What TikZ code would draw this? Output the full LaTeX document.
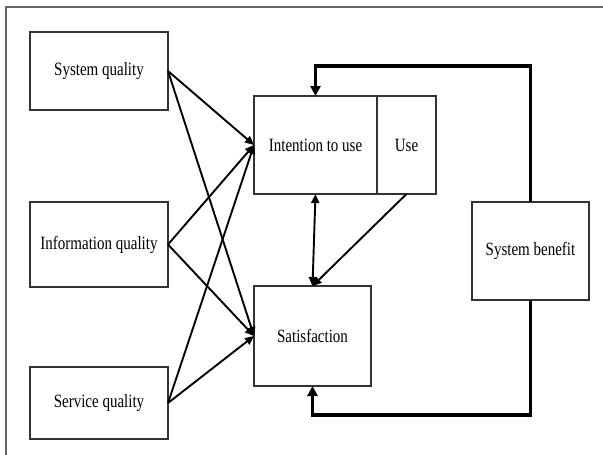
\documentclass[tikz,border=0pt]{standalone}
\usepackage{fontspec}
\setmainfont{Liberation Serif}
\usepackage{graphicx}
\usetikzlibrary{arrows.meta,positioning}
\newcommand{\tallt}[1]{\scalebox{1}[1.25]{#1}}
\tikzset{
	blockbox/.style={
		draw=black!80, line width=1.3pt, inner sep=0pt, outer sep=0pt,
		font=\fontsize{15}{18}\selectfont},
	link/.style={
		line width=1.9pt, >={Triangle[length=9pt,width=8pt]}, ->},
	feedback/.style={
		line width=3.5pt, >={Triangle[length=10pt,width=10pt]}, ->}
}

\begin{document}
\begin{tikzpicture}[x=1pt,y=1pt,yscale=-1,xscale=1]
\useasboundingbox (0,0) rectangle (603,455);

% frame
\draw [black!60, line width=1.6pt] (6,455) -- (6,7) -- (603,7);

% quality boxes
\node [blockbox, minimum width=138pt, minimum height=78pt] (sysq) at (99,71) {\tallt{System quality}};
\node [blockbox, minimum width=138pt, minimum height=85pt] (infoq) at (99,244.5) {\tallt{Information quality}};
\node [blockbox, minimum width=138pt, minimum height=72pt] (servq) at (99,403) {\tallt{Service quality}};

% middle and right
\node [blockbox, minimum width=123pt, minimum height=98pt] (intent) at (315.5,145) {\tallt{Intention to use}};
\node [blockbox, minimum width=59pt, minimum height=98pt, right=0pt of intent] (use) {\tallt{Use}};
\node [blockbox, minimum width=117pt, minimum height=100pt] (satis) at (312.5,336) {\tallt{Satisfaction}};
\node [blockbox, minimum width=117pt, minimum height=98pt] (benefit) at (530.5,251) {\tallt{System benefit}};

\foreach \src in {sysq,infoq,servq} {
	\draw [link] (\src.east) -- (intent.west);
	\draw [link] (\src.east) -- (satis.west);
}

\draw [link, <->] (intent.south) -- (satis.north);
\draw [link] (use.south) -- (satis.north);

% feedback loops
\draw [feedback] (benefit.north) -- ++(0,-136) -| (intent.north);
\draw [feedback] (benefit.south) -- ++(0,115) -| (satis.south);

\end{tikzpicture}
\end{document}
